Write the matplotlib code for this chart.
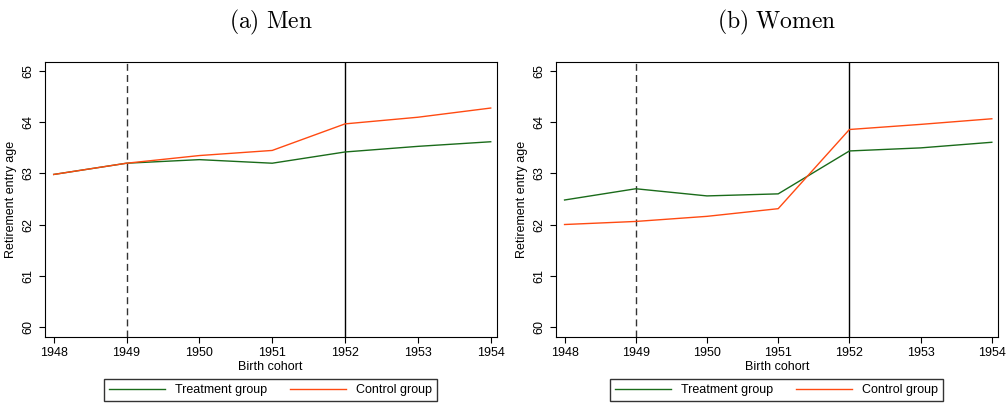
import matplotlib
matplotlib.use('Agg')
import matplotlib.pyplot as plt

plt.rcParams['font.family'] = ['Liberation Sans', 'DejaVu Sans']
plt.rcParams['mathtext.fontset'] = 'cm'

years = [1948, 1949, 1950, 1951, 1952, 1953, 1954]
men_treat = [62.98, 63.2, 63.27, 63.2, 63.42, 63.53, 63.62]
men_ctrl = [62.98, 63.2, 63.35, 63.45, 63.97, 64.1, 64.28]
women_treat = [62.48, 62.7, 62.56, 62.6, 63.44, 63.5, 63.61]
women_ctrl = [62.0, 62.06, 62.16, 62.31, 63.86, 63.96, 64.07]

green = '#1a6b1a'
orange = '#ff4a12'

fig = plt.figure(figsize=(10.08, 4.03), dpi=100)
panels = [
    ([0.0446, 0.164, 0.448, 0.682], men_treat, men_ctrl, r'$\mathrm{(a)\ Men}$'),
    ([0.5516, 0.164, 0.438, 0.682], women_treat, women_ctrl, r'$\mathrm{(b)\ Women}$'),
]
for rect, tr, ct, title in panels:
    ax = fig.add_axes(rect)
    ax.axvline(1949, color='#333333', ls=(0, (5, 3)), lw=1)
    ax.axvline(1952, color='black', lw=1)
    l1, = ax.plot(years, tr, color=green, lw=1, label='Treatment group')
    l2, = ax.plot(years, ct, color=orange, lw=1, label='Control group')
    ax.set_xlim(1947.88, 1954.08)
    ax.set_ylim(59.8, 65.18)
    ax.set_xticks(years)
    ax.set_yticks([60, 61, 62, 63, 64, 65])
    ax.tick_params(axis='y', labelrotation=90, labelsize=9, length=4)
    ax.tick_params(axis='x', labelsize=9, length=4)
    for lab in ax.get_yticklabels():
        lab.set_va('center')
    ax.set_xlabel('Birth cohort', fontsize=9, labelpad=1)
    ax.set_ylabel('Retirement entry age', fontsize=9)
    for s in ax.spines.values():
        s.set_linewidth(0.8)
    cx = rect[0] + rect[2] / 2
    fig.text(cx, 0.945, title, ha='center', va='center', fontsize=17)
    fig.legend(handles=[l1, l2], loc='center', bbox_to_anchor=(cx, 0.032),
               ncol=2, fontsize=9, frameon=True, fancybox=False,
               edgecolor='black', handlelength=4.5, columnspacing=1.8,
               borderpad=0.4)

fig.savefig('out.png', dpi=100)
